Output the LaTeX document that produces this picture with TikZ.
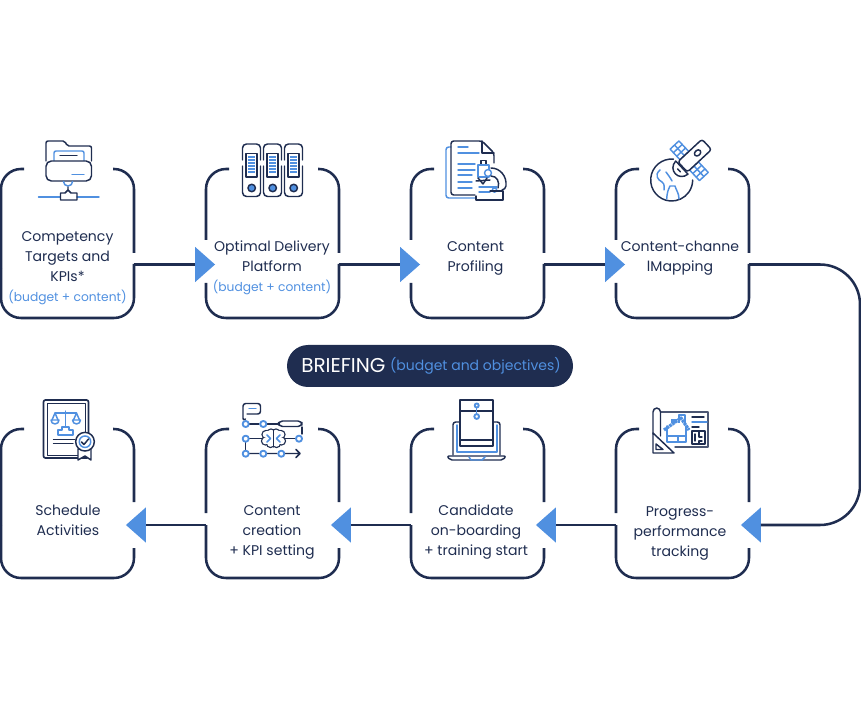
\documentclass[tikz,border=0pt]{standalone}
\usepackage{fontspec}
\setmainfont{Poppins}
\usetikzlibrary{shapes.geometric}
\definecolor{ink}{HTML}{1F2D50}
\definecolor{sky}{HTML}{5090E0}
\tikzset{
  x=0.75pt,y=-0.75pt,
  cardbox/.style={minimum width=99.75pt,minimum height=111.75pt,inner sep=0pt,outer sep=0pt},
  edge/.style={draw=ink,line width=1.9pt},
  wire/.style={draw=ink,line width=1.9pt},
  head/.style={shape=isosceles triangle,isosceles triangle stretches,fill=sky,inner sep=0pt,outer sep=0pt,minimum width=26.5pt,minimum height=15pt},
  headr/.style={head,shape border rotate=0},
  headl/.style={head,shape border rotate=180},
  lbl/.style={align=center,text=ink,font=\fontsize{10.55pt}{15pt}\selectfont,inner sep=0pt},
  sublbl/.style={text=sky,font=\fontsize{9.2pt}{12pt}\selectfont,inner sep=0pt},
  dk/.style={draw=ink,line width=1.1pt,line cap=round,line join=round},
  bl/.style={draw=sky,line width=1.1pt,line cap=round,line join=round},
}
% x, y, left gap from/to, right gap from/to
\newcommand{\cardline}[6]{%
  \begin{scope}[shift={(#1,#2)}]
    \draw[edge] (23,0) -- (20,0) arc[start angle=90,end angle=180,radius=15pt] -- (0,#3);
    \draw[edge] (112,0) -- (113,0) arc[start angle=90,end angle=0,radius=15pt] -- (133,#5);
    \draw[edge] (0,#4) -- (0,129) arc[start angle=180,end angle=270,radius=15pt] -- (113,149) arc[start angle=270,end angle=360,radius=15pt] -- (133,#6);
  \end{scope}}
\begin{document}
\begin{tikzpicture}
\useasboundingbox (0,0) rectangle (861,720);
% cards
\node[cardbox] (c1) at (67.5,243.5) {};
\node[cardbox] (c2) at (272.5,243.5) {};
\node[cardbox] (c3) at (477.5,243.5) {};
\node[cardbox] (c4) at (682.5,243.5) {};
\node[cardbox] (c5) at (682.5,503.5) {};
\node[cardbox] (c6) at (477.5,503.5) {};
\node[cardbox] (c7) at (272.5,503.5) {};
\node[cardbox] (c8) at (67.5,503.5) {};
\cardline{1}{169}{100}{100}{84}{95}
\cardline{206}{169}{71}{114}{84}{95}
\cardline{411}{169}{71}{114}{84}{95}
\cardline{616}{169}{71}{114}{84}{95}
\cardline{1}{429}{96}{96}{73}{119}
\cardline{206}{429}{84}{96}{73}{119}
\cardline{411}{429}{84}{96}{73}{119}
\cardline{616}{429}{84}{96}{73}{119}
% arrow heads
\node[headr] (a1) at (203,264.5) {};
\node[headr] (a2) at (408,264.5) {};
\node[headr] (a3) at (613,264.5) {};
\node[headl] (a4) at (753,525) {};
\node[headl] (a5) at (548,525) {};
\node[headl] (a6) at (343,525) {};
\node[headl] (a7) at (138,525) {};
\coordinate (t1) at (860,264.5);
\coordinate (t2) at (860,525);
% connectors
\draw[wire] (c1.east |- a1.center) -- (a1.lower side);
\draw[wire] (c2.east |- a2.center) -- (a2.lower side);
\draw[wire] (c3.east |- a3.center) -- (a3.lower side);
\draw[wire,rounded corners=30pt] (c4.east |- a3.center) -- (t1) -- (t2) -- (a4.lower side);
\draw[wire] (c5.west |- a4.center) -- (a5.lower side);
\draw[wire] (c6.west |- a5.center) -- (a6.lower side);
\draw[wire] (c7.west |- a6.center) -- (a7.lower side);
% labels
\node[lbl] (l1) at (67.5,257) {Competency\\Targets and\\KPIs*};
\node[sublbl] (s1) at (67.5,297) {(budget + content)};
\node[lbl] (l2) at (272,256) {Optimal Delivery\\Platform};
\node[sublbl] (s2) at (272,287) {(budget + content)};
\node[lbl] (l3) at (475.5,258) {Content\\Profiling};
\node[lbl] (l4) at (680,258) {Content-channe\\lMapping};
\node[lbl] (l5) at (680,533) {Progress-\\performance\\tracking};
\node[lbl] (l6) at (476,532) {Candidate\\on-boarding\\+ training start};
\node[lbl] (l7) at (272,532) {Content\\creation\\+ KPI setting};
\node[lbl] (l8) at (68,520) {Schedule\\Activities};
% pill
\node[fill=ink,rounded corners=15.75pt,minimum width=214.5pt,minimum height=31.5pt,inner sep=0pt] (p) at (430,366) {};
\node[text=white,font=\fontsize{15pt}{16pt}\selectfont,inner sep=0pt,anchor=base west] (p1) at (301,372.5) {BRIEFING};
\node[text=sky,font=\fontsize{10.5pt}{14pt}\selectfont,inner sep=0pt,anchor=base east] (p2) at (561,371) {(budget and objectives)};
% ICON 1 folder
\draw[dk,rounded corners=1.5pt] (46,161) -- (46,141) -- (65,141) -- (67,146) -- (91.5,146) -- (91.5,161);
\draw[bl,rounded corners=1.5pt] (54,161) -- (54,151) -- (84,151) -- (84,161);
\draw[dk] (60,155.5) -- (77,155.5);
\draw[dk,rounded corners=4pt,fill=white] (46,161) rectangle (91.5,181);
\draw[bl] (72,174.5) -- (84,174.5);
\draw[bl] (63.5,181.5) arc[start angle=180,end angle=360,radius=3.4pt];
\draw[bl] (38.5,197) -- (60,197) (77,197) -- (99,197);
\draw[dk] (68,187) -- (68,190) -- (65,193) -- (60.5,193) -- (60.5,200) -- (77,200) -- (77,193) -- (71,193) -- (68,190);
% ICON 2 servers
\foreach \dx in {0,21,42}{
  \begin{scope}[shift={(\dx,0)}]
    \draw[dk,rounded corners=3pt] (242.5,160) -- (242.5,144) -- (260.5,144) -- (260.5,160);
    \draw[dk,rounded corners=3pt] (242.5,166) -- (242.5,196.5) -- (260.5,196.5) -- (260.5,166);
    \draw[dk] (246,153.5) rectangle (257,177);
    \foreach \yy in {157,160,163,166,169,172}{\draw[bl,line cap=butt] (248,\yy) -- (255,\yy);}
    \draw[dk,fill=sky] (251.7,188) circle[radius=2.8pt];
  \end{scope}}
% ICON 3 document and microscope
\draw[bl,rounded corners=2pt] (451,147) -- (446,147) -- (446,198) -- (475,198);
\draw[dk,rounded corners=2pt] (475,195) -- (451,195) -- (451,141) -- (482,141) -- (494,153) -- (494,163);
\draw[dk] (482,141) -- (482,153) -- (494,153);
\foreach \ya/\xa in {147/468,153/479,164/475,170/475,175/472,182/472,188/472}{\draw[bl] (458,\ya) -- (\xa,\ya);}
\draw[dk] (481,165) -- (481,160.5) -- (486,160.5) -- (486,165);
\draw[bl,fill=white] (478,165) rectangle (489,177);
\draw[bl,fill=white] (488,173) circle[radius=2.6pt];
\draw[dk] (491,168) .. controls (500,168) and (507,176) .. (506,186) .. controls (505.5,188) and (504,190) .. (502,190);
\draw[dk] (491,176) .. controls (497,176) and (500,182) .. (498,188);
\draw[dk] (476,181) -- (490,180);
\draw[dk] (478,178) -- (483,184) -- (487,178);
\draw[bl] (479,187) -- (497,187) (479,192) -- (490,192);
\draw[bl] (494.5,190) circle[radius=1.6pt];
\draw[dk] (476,196) -- (476,200) -- (503,200) -- (503,191) -- (490,191);
% ICON 4 satellite
\draw[dk] (673.5,159.1) arc[start angle=85,end angle=360,radius=15.75pt];
\draw[bl] (660,170) .. controls (654,175) and (658,180) .. (662,182) .. controls (665,184) and (664,188) .. (664,190);
\draw[bl] (666.7,199) .. controls (667,193) and (668,190) .. (670,186) -- (675,186) .. controls (676,190) and (679,193) .. (679,199);
\draw[bl] (666,172) .. controls (668,175) and (670,177) .. (672,181);
\begin{scope}[shift={(694.3,156)},rotate=43]
  \draw[bl] (-13,-21.5) rectangle (-1,-7);
  \draw[bl] (-13,-16.7) -- (-1,-16.7) (-13,-11.8) -- (-1,-11.8) (-7,-21.5) -- (-7,-7);
  \draw[bl] (-13,7) rectangle (-1,21.5);
  \draw[bl] (-13,11.8) -- (-1,11.8) (-13,16.7) -- (-1,16.7) (-7,7) -- (-7,21.5);
  \draw[dk,rounded corners=2pt,fill=white] (-16,-7) rectangle (17,7);
  \draw[dk,rounded corners=2pt] (1,-2.5) rectangle (8,2.5);
  \draw[dk,fill=white] (-17,-9) -- (-17,9) .. controls (-29,8) and (-29,-8) .. (-17,-9);
  \draw[dk] (-21,-2) -- (-21,2);
\end{scope}
% ICON 5 certificate
\draw[dk,line width=1.3pt,rounded corners=1.5pt] (43.5,400) rectangle (88.5,458);
\draw[dk,line width=.7pt] (47,403.5) rectangle (85,455);
\draw[bl] (65.7,411) -- (65.7,427) (55,413) -- (76.5,413);
\draw[bl] (55,413) -- (52,420) (55,413) -- (58,420) (76.5,413) -- (73.5,420) (76.5,413) -- (79.5,420);
\draw[bl] (51,420) -- (59,420) arc[start angle=0,end angle=-180,radius=3pt] ;
\draw[bl] (72.5,420) -- (80.5,420) arc[start angle=0,end angle=-180,radius=3pt];
\draw[bl] (62,427) -- (69,427) -- (69,430) -- (73,430) -- (73,435) -- (58,435) -- (58,430) -- (62,430) -- cycle;
\draw[dk] (53.5,439.5) -- (75,439.5) (53.5,443.5) -- (73,443.5);
\draw[dk,fill=white] (78,449) -- (78,460) -- (85,456) -- (91,460) -- (91,449) -- cycle;
\draw[dk,fill=white] (85,441.7) circle[radius=7pt];
\draw[bl,fill=white] (85,441.7) circle[radius=4.3pt];
\draw[dk] (81.5,442) -- (84,444.5) -- (88.5,439);
% ICON 6 flow with brain
\draw[dk,rounded corners=2pt] (245.5,419) -- (243,421) -- (243,403.5) -- (260.5,403.5) -- (260.5,414) -- (247,414);
\draw[bl] (249,408.5) -- (256,408.5);
\draw[dk] (247,424) -- (259,424);
\draw[dk] (266,424) -- (278,424);
\draw[dk,rounded corners=3pt] (278.5,421) -- (302,421) -- (302,426.5) -- (278.5,426.5) -- cycle;
\draw[dk] (302,427) -- (302,434);
\draw[dk] (249,438.5) -- (262,438.5) (285,438.5) -- (295,438.5);
\draw[dk] (245.5,442) -- (245.5,450);
\draw[dk] (249,453.5) -- (259,453.5) (267,453.5) -- (277,453.5) (285,453.5) -- (300,453.5) (296,449.5) -- (300,453.5) -- (296,457.5);
\foreach \bx/\by in {266/434.5,271/433,276/433,281/434.5,265.5/441,270.5/443.5,276.5/443.5,281.5/441}{\fill[ink] (\bx,\by) circle[radius=3.5pt];}
\foreach \bx/\by in {266/434.5,271/433,276/433,281/434.5,265.5/441,270.5/443.5,276.5/443.5,281.5/441}{\fill[white] (\bx,\by) circle[radius=2.5pt];}
\fill[white] (266,431.5) rectangle (281,444.5);
\draw[dk] (273.5,430) -- (273.5,447);
\draw[bl] (267,435) -- (270.5,438.5) -- (267,442) (280,435) -- (276.5,438.5) -- (280,442);
\foreach \px/\py in {245.7/424,263.3/424,245.7/438.7,299/438.7,245.7/453.7,263.3/453.7,281.3/453.7}{\draw[bl,line width=1.4pt,fill=white] (\px,\py) circle[radius=2.3pt];}
% ICON 7 envelope laptop
\draw[dk,rounded corners=2pt] (453,455) -- (453,422) -- (460,422) (493,422) -- (500,422) -- (500,455);
\draw[bl] (457,425) -- (457,452) -- (497,452) -- (497,425);
\draw[dk,fill=white] (460,400) rectangle (493,446);
\draw[dk] (460,411) -- (493,411) (460,440) -- (493,440);
\draw[bl] (476.7,405.5) -- (476.7,416.5);
\draw[bl,line width=1.4pt,fill=white] (476.7,405.5) circle[radius=1.5pt] (476.7,416.5) circle[radius=1.8pt];
\draw[dk,rounded corners=1.5pt] (447,456) -- (506,456) -- (503,460) -- (450,460) -- cycle;
\draw[bl] (469,457) -- (471,460) -- (482,460) -- (485,457);
% ICON 8 plan
\draw[dk,draw=ink!80] (661,412) -- (708,412) -- (708,447) -- (675,447);
\draw[dk,rounded corners=3pt] (653,434) -- (653,408) -- (660.5,408) -- (660.5,436);
\draw[dk,fill=white] (653,433) -- (653,453) -- (674,453) -- cycle;
\draw[dk] (656,444) -- (656,449.5) -- (663,449.5) -- cycle;
\draw[bl] (667,426) -- (667,442) -- (686,442) -- (686,426) (667,436) -- (686,436) (678,436) -- (678,442);
\draw[bl] (679,419) -- (679,415) -- (685,415) -- (685,424);
\draw[bl,line width=2.4pt,line cap=butt,dash pattern=on 2pt off .5pt] (664,430) -- (681,418) -- (689,430);
\draw[bl,line width=2.4pt,line cap=butt,dash pattern=on 2pt off .5pt] (671,421) -- (680,421);
\draw[dk] (692,417) -- (704,417);
\draw[bl] (692,422) -- (707,422);
\draw[dk] (692,427) -- (699,427);
\draw[dk,line width=1.5pt] (692,431) rectangle (705,444);
\draw[dk] (695,434) -- (695,441) (699,431) -- (699,437) -- (702,437) (699,444) -- (699,441) -- (702,441);
\end{tikzpicture}
\end{document}
